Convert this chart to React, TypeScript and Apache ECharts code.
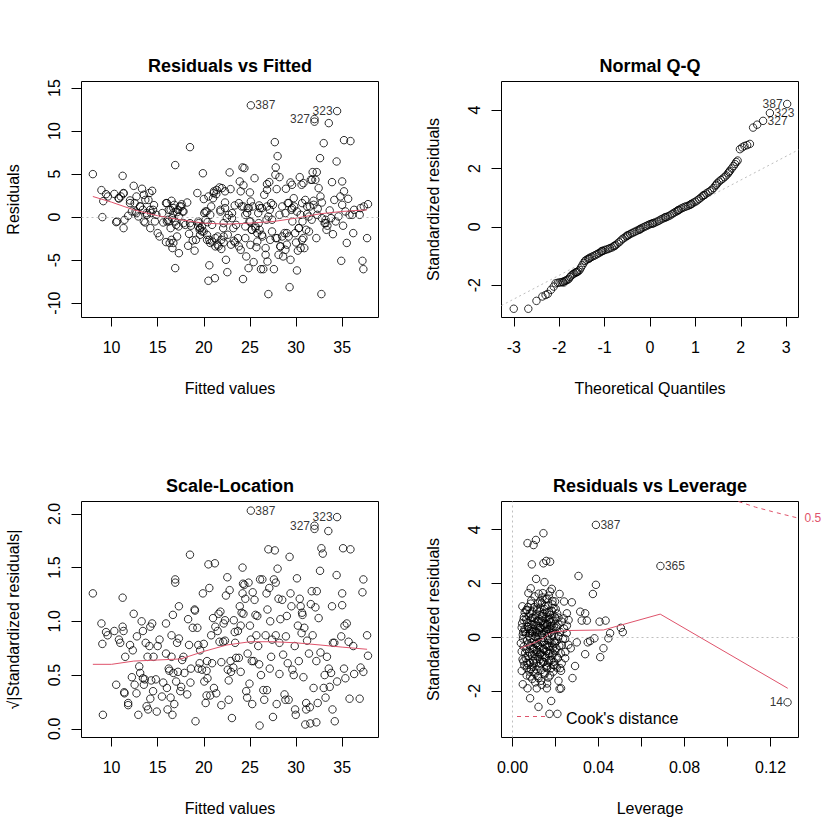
import React, { useEffect, useRef } from "react";
import * as echarts from "echarts";

const FONT = "'Liberation Sans', Arial, Helvetica, sans-serif";
const RED = "#DF536B";
const GRAY = "#BEBEBE";

// ---------- Panel 1: Residuals vs Fitted ----------
const rvfPoints: number[][] = [
  [7.97,5.0],[8.9,3.14],[9.0,0],[9.1,1.86],[9.4,2.67],[9.6,2.4],[10.3,2.7],[10.5,-0.58],[10.8,2.17],[11.0,2.4],[11.2,4.8],[11.3,-1.28],[11.3,2.75],[11.4,-0.31],[11.8,0.16],[12.0,1.94],[12.2,0.66],[12.4,3.64],[12.5,1.63],[12.7,0.47],[12.7,2.4],[12.9,0.08],[13.1,1.24],[13.3,3.3],[13.4,0.85],[13.5,2.6],[13.65,-0.62],[13.8,0.47],[14.0,2.0],[14.1,2.8],[14.2,-1.28],[14.3,0.47],[14.4,3.06],[14.5,0.85],[14.6,1.4],[14.7,-0.5],[14.85,0.27],[15.0,-1.86],[15.2,-2.25],[15.5,0.47],[15.6,-0.62],[15.9,-2.9],[15.9,1.63],[16.0,-0.5],[16.1,-0.31],[16.2,0.85],[16.3,-3.0],[16.4,-1.28],[16.5,1.9],[16.5,-2.64],[16.6,-3.6],[16.7,0.47],[16.8,1.43],[16.9,6.05],[16.9,-5.93],[17.0,-0.9],[17.1,-2.25],[17.2,0.85],[17.3,-4.19],[17.3,0.08],[17.4,1.24],[17.6,1.5],[17.7,0.66],[17.8,-0.7],[18.0,-0.9],[18.2,1.7],[18.3,-3.33],[18.4,-1.94],[18.5,8.14],[18.5,-0.7],[18.6,-1.0],[18.8,-2.7],[19.0,-3.9],[19.15,-2.64],[19.3,2.8],[19.4,-0.5],[19.4,-1.08],[19.55,-1.47],[19.6,-2.05],[19.8,-1.67],[19.9,5.1],[20.0,2.1],[20.05,0.47],[20.2,-0.3],[20.3,0.66],[20.35,-2.64],[20.4,-0.58],[20.5,-7.4],[20.6,-5.6],[20.7,-3.0],[20.8,1.24],[20.9,-0.9],[21.0,2.2],[21.1,3.0],[21.2,-7.1],[21.25,-3.4],[21.35,2.67],[21.5,-2.25],[21.6,-3.4],[21.7,3.45],[21.8,0.85],[21.9,-3.7],[22.1,-1.28],[22.15,-2.95],[22.3,1.7],[22.3,3.0],[22.4,-4.96],[22.55,-6.4],[22.6,-2.05],[22.7,0.27],[22.8,5.2],[22.9,3.26],[22.95,-3.2],[23.05,-0.12],[23.2,-1.28],[23.25,-2.75],[23.35,1.36],[23.4,-2.95],[23.5,-0.9],[23.7,-2.44],[23.8,-3.4],[23.9,4.15],[24.0,-3.8],[24.0,3.0],[24.1,1.24],[24.2,5.78],[24.25,-7.2],[24.3,3.7],[24.4,5.7],[24.5,-1.08],[24.6,-4.57],[24.7,0.47],[24.75,1.05],[24.85,-5.93],[24.95,-0.5],[25.0,2.87],[25.1,13.0],[25.1,1.82],[25.2,-1.47],[25.3,1.24],[25.4,-5.23],[25.5,4.53],[25.6,-1.08],[25.7,-3.5],[25.8,-1.86],[25.9,0.47],[26.0,1.36],[26.05,-1.47],[26.1,1.05],[26.2,-6.05],[26.35,-2.25],[26.45,-6.05],[26.55,2.6],[26.7,-4.38],[26.8,-0.3],[26.85,3.84],[26.9,-5.16],[27.0,-8.95],[27.1,4.07],[27.15,0.85],[27.2,-2.64],[27.3,1.63],[27.4,-0.3],[27.5,1.43],[27.6,-6.05],[27.7,8.72],[27.8,5.78],[27.8,-2.44],[27.9,3.26],[28.0,7.09],[28.1,-4.38],[28.2,4.65],[28.2,0.27],[28.3,-3.4],[28.5,1.24],[28.6,-4.57],[28.75,-1.86],[28.85,0.47],[28.9,3.3],[29.0,-3.2],[29.1,1.63],[29.2,-2.25],[29.3,-8.14],[29.4,4.03],[29.4,-4.96],[29.5,0.85],[29.6,-0.5],[29.75,2.2],[29.8,1.24],[29.9,-1.86],[30.0,-2.95],[30.1,-6.2],[30.2,-3.9],[30.3,-1.28],[30.4,4.65],[30.5,0.27],[30.6,3.76],[30.65,-2.64],[30.7,-0.5],[30.8,3.95],[30.9,-3.6],[31.0,2.0],[31.1,-1.47],[31.2,0.35],[31.4,-1.67],[31.5,1.24],[31.6,4.34],[31.7,-0.3],[31.8,5.23],[31.9,1.9],[32.0,11.4],[32.0,11.1],[32.1,4.34],[32.2,-2.44],[32.25,5.23],[32.35,0.97],[32.45,3.37],[32.6,6.86],[32.65,2.4],[32.75,-8.95],[32.8,1.7],[33.0,8.6],[33.1,-0.7],[33.2,-0.31],[33.3,-1.47],[33.4,-1.0],[33.55,10.93],[33.65,0.78],[33.8,-0.12],[33.9,4.07],[34.0,-1.98],[34.15,2.0],[34.3,-0.5],[34.4,6.47],[34.45,12.33],[34.6,0.08],[34.8,2.4],[34.9,-5.08],[35.0,4.15],[35.1,-1.0],[35.2,3.0],[35.2,8.95],[35.35,0.66],[35.5,-3.0],[35.65,2.13],[35.8,0.27],[35.9,8.84],[36.2,-1.86],[36.3,0.85],[36.9,0.27],[37.0,1.05],[37.2,-5.08],[37.3,-6.05],[37.35,1.24],[37.7,-2.44],[37.8,1.51],
  [12.0,1.63],[12.6,0.65],[13.1,1.24],[13.66,2.0],[13.84,0.27],[14.2,0.85],[13.5,-0.5],[10.76,2.2],[11.3,2.8],[10.6,-0.5],
  [16.0,1.63],[16.4,0.85],[16.7,1.05],[17.1,0.58],[17.56,1.24],[17.8,0.65],[16.55,-0.12],[16.9,-0.5],[17.27,-1.08],[16.2,-0.5],[16.7,-3.0],
  [19.44,-0.7],[19.6,-1.28],[19.8,-1.08],[19.98,-1.67],[20.35,-2.06],[20.6,-2.64],[20.9,-2.84],[21.25,-2.44],[21.5,-3.2],[21.9,-2.64],[22.15,-2.25],[21.07,2.8],[21.4,3.17],[21.97,3.37],[20.5,2.4],[20.17,0.65],[20.7,0.27],[21.8,0.65],[22.3,1.05],[22.5,-0.12],[22.15,-0.7],
  [23.06,0.47],[23.8,1.63],[24.3,1.24],[24.87,1.05],[24.5,0.27],[25.05,-0.5],[25.6,-1.28],[25.95,-0.7],[26.3,1.05],[26.86,1.24],[27.0,0.07],[27.4,-1.67],[27.95,-2.44],[28.5,-2.25],[29.0,-1.86],[29.2,1.63],[29.57,1.05],[30.1,0.65],[30.66,1.63],[31.2,1.24],[31.4,0.07],[31.9,1.43],[32.3,0.27],[32.8,-0.12],[33.2,-0.7],[30.3,-1.28],[30.8,-2.44],[30.5,-3.6],[26.3,-2.06],[25.8,-2.84],[26.7,-3.6],[25.05,-3.22],[24.5,-2.44],[25.2,-1.47],[28.3,-3.4],[28.85,-3.8],[26.86,3.17],[27.76,4.92],[29.57,3.76],[31.74,4.34],[35.0,1.43],[36.1,0.27]
];
const rvfSmooth: number[][] = [
  [7.97,2.4],[10,1.74],[12.4,0.85],[15,0.16],[17.5,-0.31],[20,-0.7],[22.5,-0.81],[25,-0.7],[27.6,-0.5],[30,-0.12],[32.6,0.39],[35,0.66],[37.7,0.85]
];
const rvfLabelIds = ["387", "323", "327"];
const rvfLabelX = [25.1, 34.45, 32.0];
const rvfLabelY = [13.0, 12.33, 11.4];
const rvfLabelSide = ["right", "left", "left"];

// ---------- Panel 2: Normal Q-Q ----------
const qqPoints: number[][] = [
  [-3.0,-2.81],[-2.68,-2.81],[-2.5,-2.54],[-2.37,-2.39],[-2.3,-2.34],[-2.25,-2.3],[-2.18,-2.16],[-2.12,-2.05],
  [-2.08,-1.94],[-2.03,-1.92],[-1.99,-1.91],[-1.95,-1.9],[-1.92,-1.89],[-1.88,-1.86],[-1.85,-1.84],[-1.82,-1.82],[-1.79,-1.79],[-1.76,-1.72],[-1.73,-1.67],[-1.7,-1.63],[-1.67,-1.6],[-1.64,-1.57],[-1.61,-1.55],[-1.58,-1.53],[-1.55,-1.48],[-1.52,-1.4],[-1.49,-1.32],[-1.46,-1.24],[-1.43,-1.17],[-1.4,-1.13],[-1.36,-1.1],[-1.32,-1.06],[-1.28,-1.03],[-1.24,-1.0],[-1.2,-0.97],[-1.16,-0.93],[-1.12,-0.9],[-1.08,-0.86],[-1.04,-0.83],[-1.0,-0.8],[-0.96,-0.78],[-0.92,-0.76],[-0.88,-0.73],[-0.84,-0.71],[-0.8,-0.67],[-0.76,-0.63],[-0.72,-0.58],[-0.68,-0.53],[-0.64,-0.47],[-0.6,-0.41],[-0.56,-0.37],[-0.52,-0.33],[-0.48,-0.29],[-0.44,-0.25],[-0.4,-0.22],[-0.36,-0.19],[-0.32,-0.16],[-0.28,-0.13],[-0.24,-0.1],[-0.2,-0.06],[-0.16,-0.03],[-0.12,0.0],[-0.08,0.03],[-0.04,0.06],[0.0,0.09],[0.04,0.11],[0.08,0.13],[0.12,0.15],[0.16,0.18],[0.2,0.21],[0.24,0.25],[0.28,0.28],[0.32,0.31],[0.36,0.33],[0.4,0.36],[0.44,0.39],[0.48,0.43],[0.52,0.47],[0.56,0.51],[0.6,0.54],[0.64,0.58],[0.68,0.62],[0.72,0.65],[0.76,0.68],[0.8,0.7],[0.84,0.72],[0.88,0.75],[0.92,0.79],[0.96,0.83],[1.0,0.86],[1.04,0.9],[1.08,0.95],[1.12,1.0],[1.16,1.05],[1.2,1.09],[1.24,1.14],[1.28,1.18],[1.32,1.22],[1.36,1.27],[1.4,1.33],[1.44,1.41],[1.48,1.49],[1.52,1.55],[1.56,1.6],[1.6,1.65],[1.64,1.7],[1.68,1.76],[1.72,1.83],[1.76,1.92],[1.8,2.0],[1.84,2.08],[1.87,2.15],[1.9,2.22],[1.93,2.27],
  [-1.9,-1.91],[-1.62,-1.56],[-1.34,-1.09],[-1.06,-0.83],[-0.78,-0.66],[-0.5,-0.3],[-0.22,-0.09],[0.06,0.11],[0.34,0.33],[0.62,0.57],[0.9,0.77],[1.18,1.08],[1.46,1.44],[1.74,1.88],
  [1.98,2.66],[2.03,2.72],[2.08,2.77],[2.14,2.8],[2.2,2.84],[2.27,3.4],[2.36,3.5],[2.49,3.63],[2.64,3.9],[3.02,4.21]
];
const qqLine: number[][] = [[-3.27,-2.7],[3.27,2.64]];
const qqLabelIds = ["387", "323", "327"];
const qqLabelX = [3.02, 2.64, 2.49];
const qqLabelY = [4.21, 3.9, 3.63];
const qqLabelSide = ["left", "right", "right"];

// ---------- Panel 3: Scale-Location ----------
const slPoints: number[][] = [
  [7.97,1.26],[8.9,0.98],[9.0,0.79],[9.06,0.13],[9.4,0.9],[9.57,0.87],[10.3,0.91],[10.5,0.41],[10.8,0.83],[10.94,0.8],[11.2,1.22],[11.2,0.95],[11.3,0.91],[11.37,0.34],[11.4,0.33],[11.48,0.67],[11.8,0.22],[11.8,0.24],[12.0,0.78],[12.2,0.48],[12.3,0.73],[12.4,1.07],[12.5,0.41],[12.7,0.33],[12.75,0.86],[12.9,0.13],[13.0,0.58],[13.1,0.52],[13.26,1.0],[13.4,0.91],[13.4,0.47],[13.5,0.41],[13.6,0.46],[13.7,0.8],[13.8,0.21],[13.9,0.67],[13.96,0.18],[14.1,0.77],[14.2,0.95],[14.2,0.28],[14.3,0.45],[14.4,0.98],[14.5,0.35],[14.55,0.67],[14.8,0.46],[14.9,0.16],[15.0,0.77],[15.2,0.83],[15.46,0.3],[15.6,0.43],[15.9,0.7],[15.9,0.98],[16.0,0.38],[16.07,0.18],[16.2,0.56],[16.26,0.54],[16.4,0.29],[16.5,0.87],[16.5,0.67],[16.6,0.13],[16.65,1.06],[16.7,0.52],[16.8,0.23],[16.9,1.39],[16.9,1.36],[17.0,0.44],[17.1,0.8],[17.2,0.53],[17.3,1.14],[17.3,0.84],[17.45,0.35],[17.55,0.39],[17.65,0.64],[17.8,0.67],[17.9,0.52],[18.2,0.32],[18.3,1.02],[18.4,0.78],[18.5,1.62],[18.55,0.43],[18.6,0.56],[18.8,0.94],[19.0,1.11],[19.04,1.1],[19.1,0.07],[19.3,0.94],[19.4,0.56],[19.4,0.78],[19.55,0.61],[19.6,0.73],[19.8,0.55],[19.9,1.26],[20.0,0.79],[20.05,0.44],[20.2,0.24],[20.3,0.54],[20.3,0.31],[20.35,0.63],[20.4,0.47],[20.5,1.53],[20.6,1.31],[20.7,0.31],[20.8,0.87],[20.9,0.61],[21.0,1.03],[21.1,0.38],[21.2,1.54],[21.25,0.95],[21.35,0.33],[21.5,0.91],[21.6,1.07],[21.7,0.81],[21.8,1.09],[21.9,0.62],[21.9,0.22],[22.1,0.81],[22.15,0.98],[22.3,0.82],[22.3,1.01],[22.4,1.24],[22.55,1.41],[22.6,0.55],[22.7,0.45],[22.7,0.27],[22.8,1.29],[22.9,0.63],[22.95,0.53],[23.05,0.1],[23.2,0.57],[23.25,1.01],[23.35,0.9],[23.4,0.8],[23.5,0.66],[23.7,0.91],[23.8,0.66],[23.9,1.14],[24.0,0.53],[24.0,0.96],[24.1,1.08],[24.2,1.5],[24.2,1.26],[24.25,1.35],[24.3,1.07],[24.4,1.34],[24.5,1.21],[24.6,0.35],[24.7,0.29],[24.75,0.7],[24.85,1.36],[24.95,0.42],[25.0,0.96],[25.1,2.03],[25.1,0.83],[25.2,0.63],[25.25,0.23],[25.3,1.27],[25.4,0.63],[25.5,1.2],[25.6,1.06],[25.7,0.87],[25.8,1.05],[25.9,0.77],[26.0,0.6],[26.05,0.03],[26.1,1.39],[26.2,0.5],[26.35,1.39],[26.45,0.36],[26.55,0.27],[26.7,0.87],[26.8,1.26],[26.85,0.36],[26.9,1.11],[27.0,1.67],[27.1,1.31],[27.15,0.56],[27.2,1.0],[27.3,0.67],[27.4,0.83],[27.5,0.11],[27.6,1.39],[27.7,1.66],[27.8,1.36],[27.8,0.87],[27.9,0.23],[28.0,1.49],[28.1,1.21],[28.2,0.8],[28.2,0.51],[28.3,1.02],[28.5,1.2],[28.6,0.69],[28.75,0.32],[28.85,0.27],[28.9,0.86],[29.0,1.05],[29.1,0.61],[29.2,0.27],[29.3,1.6],[29.4,1.26],[29.5,1.14],[29.6,0.55],[29.75,0.5],[29.86,0.77],[29.9,0.18],[29.97,0.13],[30.1,1.4],[30.2,0.96],[30.3,0.63],[30.4,1.21],[30.5,1.14],[30.6,0.89],[30.65,1.08],[30.7,1.06],[30.8,0.48],[30.9,0.94],[31.0,0.04],[31.1,0.24],[31.1,0.18],[31.2,0.82],[31.4,0.7],[31.5,0.2],[31.55,0.05],[31.6,1.16],[31.7,1.28],[31.8,0.87],[31.9,0.38],[32.0,1.89],[32.0,1.86],[32.1,1.13],[32.2,0.63],[32.2,0.06],[32.25,1.28],[32.35,0.24],[32.45,1.03],[32.6,1.47],[32.65,0.71],[32.75,1.68],[32.9,1.63],[33.0,0.38],[33.1,0.5],[33.2,0.29],[33.35,0.67],[33.5,1.84],[33.55,0.56],[33.65,0.39],[33.8,0.52],[33.9,1.14],[33.95,0.18],[34.0,0.8],[34.15,0.8],[34.2,0.07],[34.4,1.43],[34.45,1.97],[34.45,0.44],[34.9,0.86],[35.0,1.15],[35.0,1.26],[35.1,1.68],[35.2,0.56],[35.25,0.96],[35.35,0.47],[35.5,0.98],[35.7,0.81],[35.8,0.28],[35.9,1.67],[36.2,0.77],[36.3,0.51],[36.9,0.28],[37.0,0.57],[37.2,1.27],[37.3,1.39],[37.3,0.53],[37.7,0.87],[37.8,0.68]
];
const slSmooth: number[][] = [
  [7.97,0.6],[10,0.6],[12.4,0.63],[15,0.64],[17.5,0.65],[20,0.72],[22.5,0.78],[25,0.81],[27.6,0.81],[30,0.8],[32.6,0.78],[35,0.76],[37.7,0.74]
];
const slLabelIds = ["387", "323", "327"];
const slLabelX = [25.1, 34.45, 32.0];
const slLabelY = [2.03, 1.97, 1.89];
const slLabelSide = ["right", "left", "left"];

// ---------- Panel 4: Residuals vs Leverage ----------
const lvPoints: number[][] = [
  [0.007,3.5],[0.0098,3.43],[0.0109,3.62],[0.0144,3.87],[0.009,2.71],[0.0144,2.75],[0.0157,2.84],[0.0175,2.81],[0.0388,4.18],[0.0688,2.65],[0.0307,2.28],[0.0388,1.95],[0.0374,1.61],[0.011,2.17],[0.0149,2.05],[0.0085,1.82],[0.0183,1.8],[0.0074,1.64],[0.0141,1.64],[0.0175,1.7],[0.0219,1.61],[0.0085,1.25],[0.0129,1.33],[0.016,1.43],[0.0198,1.33],[0.024,1.33],[0.0276,1.3],[0.0067,1.02],[0.0113,1.05],[0.0152,1.14],[0.0191,1.08],[0.0253,0.89],[0.0315,0.95],[0.0338,0.89],[0.0051,0.64],[0.009,0.71],[0.0136,0.77],[0.0175,0.68],[0.0214,0.73],[0.0261,0.64],[0.0322,0.62],[0.0346,0.62],[0.0405,0.58],[0.0433,0.62],[0.0043,0.36],[0.0074,0.4],[0.0113,0.43],[0.016,0.46],[0.0206,0.4],[0.0253,0.43],[0.0454,0.15],[0.0504,0.35],[0.0513,0.19],[0.0048,0.09],[0.0082,0.15],[0.0121,0.09],[0.0167,0.11],[0.0214,0.02],[0.0245,-0.06],[0.0299,-0.19],[0.035,-0.19],[0.0361,-0.14],[0.0381,-0.04],[0.0446,-0.04],[0.0039,-0.22],[0.0074,-0.26],[0.0113,-0.22],[0.016,-0.29],[0.0198,-0.22],[0.0229,-0.29],[0.0271,-0.41],[0.0423,-0.41],[0.0338,-0.63],[0.0408,-0.74],[0.0043,-0.53],[0.0082,-0.6],[0.0129,-0.63],[0.0172,-0.6],[0.0206,-0.72],[0.0245,-0.78],[0.0051,-0.9],[0.0098,-0.97],[0.0144,-0.93],[0.0191,-1.03],[0.0229,-0.97],[0.0291,-1.07],[0.0043,-1.25],[0.0067,-1.15],[0.0098,-1.28],[0.016,-1.15],[0.0206,-1.13],[0.0222,-1.15],[0.0082,-1.46],[0.0121,-1.52],[0.0167,-1.5],[0.0214,-1.62],[0.0279,-1.52],[0.0048,-1.75],[0.007,-1.9],[0.0113,-1.9],[0.0136,-1.77],[0.016,-1.9],[0.0219,-1.92],[0.0226,-1.9],[0.0082,-2.27],[0.0121,-2.59],[0.018,-2.37],[0.0172,-2.85],[0.0209,-2.85],[0.1279,-2.42],
  [0.0045,0.52],[0.0052,-0.35],[0.0058,0.21],[0.0061,-0.78],[0.0064,0.66],[0.0068,-0.12],[0.0071,0.38],[0.0073,-1.02],[0.0076,0.05],[0.0078,-0.55],[0.008,0.88],[0.0082,-0.31],[0.0084,0.24],[0.0086,-1.18],[0.0088,0.47],[0.009,-0.68],[0.0091,0.12],[0.0093,-0.42],[0.0095,0.73],[0.0096,-0.88],[0.0098,0.31],[0.0099,-0.15],[0.0101,1.12],[0.0102,-0.62],[0.0104,0.02],[0.0105,-1.35],[0.0107,0.55],[0.0108,-0.25],[0.011,0.84],[0.0111,-0.95],[0.0113,0.18],[0.0114,-0.48],[0.0116,0.62],[0.0117,-0.72],[0.0118,1.25],[0.012,-0.08],[0.0121,0.41],[0.0123,-1.08],[0.0124,0.27],[0.0125,-0.38],[0.0127,0.95],[0.0128,-0.82],[0.013,0.08],[0.0131,-0.58],[0.0132,0.58],[0.0134,-1.22],[0.0135,0.33],[0.0136,-0.18],[0.0138,0.78],[0.0139,-0.66],[0.014,1.48],[0.0142,-0.02],[0.0143,0.45],[0.0144,-0.92],[0.0146,0.15],[0.0147,-0.45],[0.0148,1.05],[0.015,-1.32],[0.0151,0.36],[0.0152,-0.28],[0.0154,0.69],[0.0155,-0.76],[0.0156,0.22],[0.0158,-0.52],[0.0159,0.92],[0.016,-1.05],[0.0162,0.04],[0.0163,0.51],[0.0164,-0.35],[0.0166,1.18],[0.0167,-0.62],[0.0168,0.29],[0.017,-0.85],[0.0171,0.64],[0.0173,-0.12],[0.0174,0.83],[0.0176,-0.48],[0.0177,0.18],[0.0179,-1.15],[0.018,0.42],[0.0182,-0.22],[0.0183,0.98],[0.0185,-0.68],[0.0187,0.26],[0.0189,-0.38],[0.0191,0.61],[0.0193,-0.92],[0.0195,0.12],[0.0197,0.75],[0.0199,-0.52],[0.0202,0.35],[0.0205,-0.15],[0.0208,0.88],[0.0211,-0.78],[0.0214,0.48],[0.0218,-0.32],[0.0222,0.2],[0.0226,-1.25],[0.023,0.58],[0.0235,-0.05],[0.024,0.32],[0.0246,-0.55],[0.0252,0.15],[0.026,-0.28],
  [0.0055,-1.05],[0.0066,-1.42],[0.0079,-1.28],[0.0092,-1.55],[0.0106,-1.68],[0.0119,-1.45],[0.0133,-1.62],[0.0149,-1.38],[0.0161,-1.72],[0.0175,-1.42],[0.019,-1.28],[0.0057,0.92],[0.0072,1.12],[0.0087,1.36],[0.0103,1.52],[0.0122,1.62],[0.0137,1.28],[0.0153,1.42],[0.0169,1.55],[0.0186,1.22],[0.0201,1.05],
  [0.0062,0.12],[0.0065,-0.45],[0.0069,0.55],[0.0074,-0.7],[0.0077,0.3],[0.0081,-0.95],[0.0085,0.62],[0.0089,-0.2],[0.0092,0.95],[0.0094,-1.1],[0.0097,0.48],[0.01,-0.42],[0.0103,0.7],[0.0106,-0.8],[0.0109,0.22],[0.0112,-1.2],[0.0115,1.0],[0.0119,-0.3],[0.0122,0.6],[0.0126,-0.65],[0.0129,1.1],[0.0133,-0.98],[0.0137,0.12],[0.0141,-0.45],[0.0145,0.88],[0.0149,-0.72],[0.0153,0.5],[0.0157,-1.1],[0.0161,0.3],[0.0165,-0.12],[0.0169,0.95],[0.0172,-0.32],[0.0178,0.58],[0.0181,-0.85],[0.0184,0.08],[0.0188,-0.6],[0.0192,0.4],[0.0196,-1.05],[0.02,0.7],[0.0204,-0.4],[0.0056,0.3],[0.0059,-0.58],[0.0063,1.0],[0.0067,-0.95],[0.0075,0.78],[0.0083,-0.05],[0.0094,0.2],[0.0108,0.02],[0.0116,-0.55],[0.0127,0.35],[0.0139,0.62],[0.0147,-0.15],[0.0158,0.75],[0.0166,-0.95],[0.0176,0.32],[0.0186,1.35],[0.0194,-0.15],[0.0213,0.05],[0.0225,-0.6],[0.0238,0.7],[0.0049,-0.05],[0.0053,0.75],[0.0047,-0.82],[0.005,0.2],[0.0046,1.15]
];
const lvSmooth: number[][] = [
  [0.0036,-0.41],[0.0098,-0.22],[0.0144,-0.04],[0.0167,0.12],[0.019,0.19],[0.0253,0.25],[0.0423,0.27],[0.0687,0.86],[0.128,-1.9]
];
const cookHalf: number[][] = [[0.1051,5.05],[0.113,4.84],[0.121,4.67],[0.133,4.43]];
const lvLabelIds = ["387", "365", "14"];
const lvLabelX = [0.0388, 0.0688, 0.1279];
const lvLabelY = [4.18, 2.65, -2.42];
const lvLabelSide = ["right", "right", "left"];

// ---------- axes ----------
const fittedTicks = [10, 15, 20, 25, 30, 35];
const residTicks = [-10, -5, 0, 5, 10, 15];
const qqXTicks = [-3, -2, -1, 0, 1, 2, 3];
const stdTicks = [-2, 0, 2, 4];
const slTicks = [0, 0.5, 1, 1.5, 2];
const levTicks = [0, 0.02, 0.04, 0.06, 0.08, 0.1, 0.12];
const levLabels = [0, 0.04, 0.08, 0.12];

const GRIDS = [
  { left: 81.5, top: 81.5 },
  { left: 501.5, top: 81.5 },
  { left: 81.5, top: 501.5 },
  { left: 501.5, top: 501.5 },
];
const GW = 297;
const GH = 236;

function xAx(i: number, min: number, max: number, ticks: number[], labels: number[], name: string, fmt?: (v: number) => string) {
  return {
    type: "value", gridIndex: i, min, max, name, nameLocation: "middle", nameGap: 63,
    nameTextStyle: { fontSize: 16, color: "#000", fontFamily: FONT },
    axisLine: { show: false, onZero: false },
    axisTick: { show: true, length: 9, customValues: ticks, lineStyle: { color: "#000", width: 1 } },
    axisLabel: { customValues: labels, fontSize: 16, color: "#000", fontFamily: FONT, margin: 22, formatter: fmt || ((v: number) => String(v)) },
    splitLine: { show: false },
  };
}
function yAx(i: number, min: number, max: number, ticks: number[], labels: number[], name: string, fmt?: (v: number) => string) {
  return {
    type: "value", gridIndex: i, min, max, name, nameLocation: "middle", nameGap: 60,
    nameTextStyle: { fontSize: 16, color: "#000", fontFamily: FONT },
    axisLine: { show: false, onZero: false },
    axisTick: { show: true, length: 10, customValues: ticks, lineStyle: { color: "#000", width: 1 } },
    axisLabel: { customValues: labels, rotate: 90, fontSize: 16, color: "#000", fontFamily: FONT, margin: 19, formatter: fmt || ((v: number) => String(v)) },
    splitLine: { show: false },
  };
}

function pts(i: number, data: number[][], extra: any = {}) {
  return {
    type: "scatter", xAxisIndex: i, yAxisIndex: i, data, symbol: "circle", symbolSize: 7.5,
    itemStyle: { color: "rgba(0,0,0,0)", borderColor: "#000", borderWidth: 1 },
    silent: true, z: 2, ...extra,
  };
}
function smooth(i: number, data: number[][]) {
  return {
    type: "line", xAxisIndex: i, yAxisIndex: i, data, symbol: "none", showSymbol: false,
    lineStyle: { color: RED, width: 1 }, silent: true, z: 3,
  };
}
function labels(i: number, ids: string[], xs: number[], ys: number[], sides: string[]) {
  return {
    type: "scatter", xAxisIndex: i, yAxisIndex: i, symbolSize: 1, silent: true, z: 4,
    itemStyle: { color: "rgba(0,0,0,0)" },
    data: ids.map((id, k) => ({
      name: id, value: [xs[k], ys[k]],
      label: { show: true, position: sides[k], formatter: id, fontSize: 12, color: "#000", fontFamily: FONT, distance: 4 },
    })),
  };
}
const refLine = { color: GRAY, width: 1, type: [2, 3] };

export default function App() {
  const ref = useRef<HTMLDivElement>(null);
  useEffect(() => {
    if (!ref.current) return;
    const chart = echarts.init(ref.current, null, { renderer: "svg" });
    const titles = ["Residuals vs Fitted", "Normal Q-Q", "Scale-Location", "Residuals vs Leverage"];
    const option: any = {
      animation: false,
      backgroundColor: "#fff",
      textStyle: { fontFamily: FONT },
      title: titles.map((t, i) => ({
        text: t, left: GRIDS[i].left + GW / 2, top: GRIDS[i].top - 25, textAlign: "center", padding: 0,
        textStyle: { fontSize: 18, fontWeight: "bold", color: "#000", fontFamily: FONT },
      })),
      grid: GRIDS.map((g) => ({
        left: g.left, top: g.top, width: GW, height: GH, show: true,
        borderColor: "#000", borderWidth: 1, backgroundColor: "transparent", containLabel: false,
      })),
      graphic: [
        {
          type: "line", silent: true, z: 10,
          shape: { x1: 517, y1: 716.5, x2: 547, y2: 716.5 },
          style: { stroke: RED, lineWidth: 1, lineDash: [4, 4] },
        },
        {
          type: "text", silent: true, z: 10, x: 566, y: 718.5,
          style: { text: "Cook's distance", fontSize: 16, fontFamily: FONT, fill: "#000", verticalAlign: "middle", align: "left" },
        },
      ],
      xAxis: [
        xAx(0, 6.74, 38.94, fittedTicks, fittedTicks, "Fitted values"),
        xAx(1, -3.27, 3.27, qqXTicks, qqXTicks, "Theoretical Quantiles"),
        xAx(2, 6.74, 38.94, fittedTicks, fittedTicks, "Fitted values"),
        xAx(3, -0.0051, 0.133, levTicks, levLabels, "Leverage", (v) => v.toFixed(2)),
      ],
      yAxis: [
        yAx(0, -11.67, 15.77, residTicks, residTicks, "Residuals"),
        yAx(1, -3.11, 4.98, stdTicks, stdTicks, "Standardized residuals"),
        yAx(2, -0.081, 2.115, slTicks, slTicks, "√|Standardized residuals|", (v) => v.toFixed(1)),
        yAx(3, -3.73, 5.05, stdTicks, stdTicks, "Standardized residuals"),
      ],
      series: [
        pts(0, rvfPoints, { markLine: { silent: true, symbol: ["none", "none"], label: { show: false }, lineStyle: refLine, data: [{ yAxis: 0 }] } }),
        smooth(0, rvfSmooth),
        labels(0, rvfLabelIds, rvfLabelX, rvfLabelY, rvfLabelSide),
        { type: "line", xAxisIndex: 1, yAxisIndex: 1, data: qqLine, symbol: "none", lineStyle: refLine, silent: true, z: 1 },
        pts(1, qqPoints),
        labels(1, qqLabelIds, qqLabelX, qqLabelY, qqLabelSide),
        pts(2, slPoints),
        smooth(2, slSmooth),
        labels(2, slLabelIds, slLabelX, slLabelY, slLabelSide),
        pts(3, lvPoints, { markLine: { silent: true, symbol: ["none", "none"], label: { show: false }, lineStyle: refLine, data: [{ yAxis: 0 }, { xAxis: 0 }] } }),
        smooth(3, lvSmooth),
        {
          name: "Cook's distance", type: "line", xAxisIndex: 3, yAxisIndex: 3, data: cookHalf, symbol: "none",
          lineStyle: { color: RED, width: 1, type: [4, 4] }, itemStyle: { color: RED }, silent: true, z: 3,
          endLabel: { show: true, formatter: "0.5", color: RED, fontSize: 12, fontFamily: FONT, distance: 6 },
        },
        labels(3, lvLabelIds, lvLabelX, lvLabelY, lvLabelSide),
      ],
    };
    chart.setOption(option);
    return () => chart.dispose();
  }, []);
  return <div ref={ref} style={{ position: "absolute", left: 0, top: 0, width: 840, height: 840 }} />;
}
